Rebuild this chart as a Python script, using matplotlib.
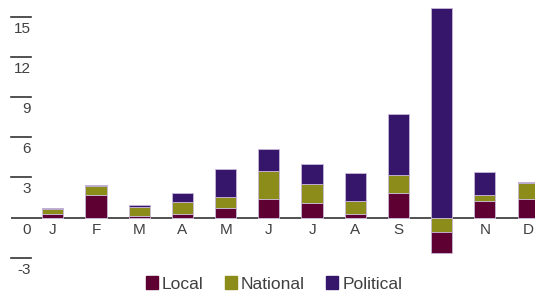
import numpy as np
import matplotlib.pyplot as plt
from matplotlib.transforms import blended_transform_factory, offset_copy
from matplotlib.patches import Patch

plt.rcParams['font.family'] = ['Liberation Sans', 'DejaVu Sans']

# data
months = ['J', 'F', 'M', 'A', 'M', 'J', 'J', 'A', 'S', 'O', 'N', 'D']
local = [0.3, 1.7, 0.15, 0.25, 0.75, 1.35, 1.1, 0.3, 1.8, -1.57, 1.2, 1.35]
national = [0.35, 0.67, 0.65, 0.9, 0.8, 2.1, 1.4, 0.9, 1.4, -1.1, 0.5, 1.2]
political = [0.05, 0.1, 0.15, 0.7, 2.05, 1.67, 1.5, 2.1, 4.55, 15.67, 1.7, 0.13]
yticks = [-3, 0, 3, 6, 9, 12, 15]

c_local = '#5e0032'
c_nat = '#8b8c19'
c_pol = '#36166b'
edge = '#c8b8d8'
txt = '#404040'

local = np.array(local)
national = np.array(national)
political = np.array(political)
x = np.arange(len(months))

fig = plt.figure(figsize=(5.35, 2.92), dpi=100)
ax = fig.add_axes([11 / 535, 22 / 292, 524 / 535, 270 / 292])

w = 0.49
# positive parts stack upward, negative parts stack downward
pos_l = np.clip(local, 0, None)
pos_n = np.clip(national, 0, None)
neg_l = np.clip(local, None, 0)
neg_n = np.clip(national, None, 0)

ax.bar(x, pos_l, w, color=c_local, edgecolor=edge, linewidth=0.6, zorder=2)
ax.bar(x, pos_n, w, bottom=pos_l, color=c_nat, edgecolor=edge, linewidth=0.6, zorder=2)
ax.bar(x, political, w, bottom=pos_l + pos_n, color=c_pol, edgecolor=edge, linewidth=0.6, zorder=2)
ax.bar(x, neg_n, w, color=c_nat, edgecolor=edge, linewidth=0.6, zorder=2)
ax.bar(x, neg_l, w, bottom=neg_n, color=c_local, edgecolor=edge, linewidth=0.6, zorder=2)

ax.set_xlim(-0.968, 11.16)
ax.set_ylim(-3.93, 16.29)

for s in ['top', 'right', 'left', 'bottom']:
    ax.spines[s].set_visible(False)
ax.axhline(0, color='#333333', lw=1.2, zorder=1)

ax.set_xticks([])
ax.set_yticks([])

# short tick lines at left with labels hanging beneath them
tr = blended_transform_factory(ax.transAxes, ax.transData)
tick_right = 20 / 524
for v in yticks:
    if v != 0:
        ax.plot([0, tick_right], [v, v], color='#333333', lw=1.2, transform=tr, clip_on=False)
    ax.text(tick_right, v, str(v), ha='right', va='center', fontsize=11, color=txt,
            transform=offset_copy(tr, fig=fig, y=-12, units='dots'))

# month labels under the zero line (hidden where a bar covers them)
for i, m in enumerate(months):
    ax.text(i, 0, m, ha='center', va='center', fontsize=11, color=txt, zorder=1,
            transform=offset_copy(ax.transData, fig=fig, y=-12, units='dots'))

handles = [Patch(color=c_local), Patch(color=c_nat), Patch(color=c_pol)]
fig.legend(handles, ['Local', 'National', 'Political'], loc='center',
           bbox_to_anchor=(274 / 535, 1 - 284 / 292), ncol=3, frameon=False,
           fontsize=12.5, handlelength=0.7, handleheight=0.7, handletextpad=0.25,
           columnspacing=1.2, labelcolor=txt)

fig.savefig('out.png', dpi=100)
